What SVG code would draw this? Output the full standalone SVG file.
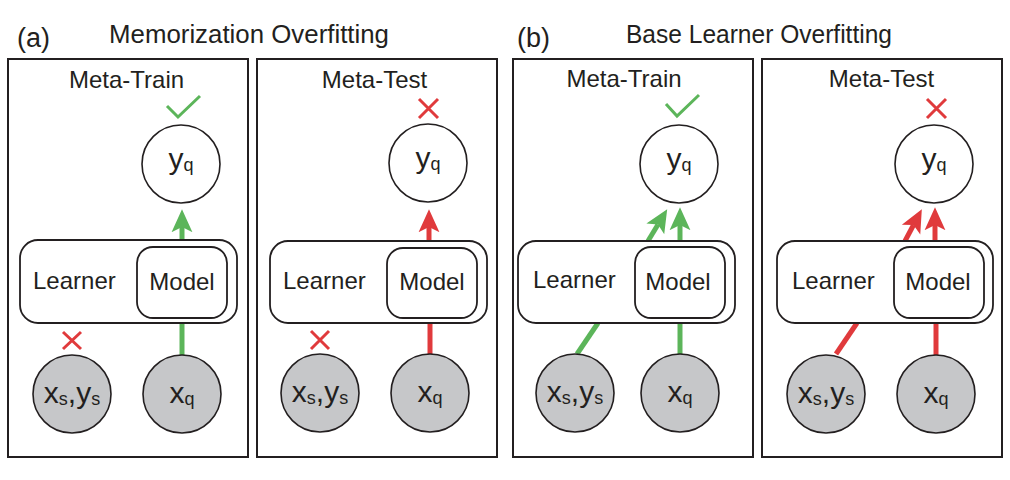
<svg xmlns="http://www.w3.org/2000/svg" width="1010" height="480" viewBox="0 0 1010 480">
<style>
text{font-family:"Liberation Sans",Arial,sans-serif;fill:#231f20}
.panel{fill:#fff;stroke:#231f20;stroke-width:2}
.learner{fill:#fff;stroke:#231f20;stroke-width:1.8}
.yq{fill:#fff;stroke:#231f20;stroke-width:1.6}
.obs{fill:#c6c7c9;stroke:#231f20;stroke-width:1.6}
.lbl{font-size:24px}
.var{font-size:30px;text-anchor:middle}
.sub{font-size:18px}
.g{stroke:#5cb55a;stroke-width:5;fill:none}
.r{stroke:#e03a3c;stroke-width:5;fill:none}
.chk{stroke:#5cb55a;stroke-width:3;fill:none}
.x{stroke:#e03a3c;stroke-width:3;fill:none}
</style>
<defs>
<marker id="ag" markerUnits="userSpaceOnUse" markerWidth="24" markerHeight="24" viewBox="0 -11 23 22" refX="5" refY="0" orient="auto"><path d="M0,-10 L22,0 L0,10 L5,0 z" fill="#5cb55a"/></marker>
<marker id="ar" markerUnits="userSpaceOnUse" markerWidth="24" markerHeight="24" viewBox="0 -11 23 22" refX="5" refY="0" orient="auto"><path d="M0,-10 L22,0 L0,10 L5,0 z" fill="#e03a3c"/></marker>
</defs>

<g id="titles">
<text x="17" y="47" style="font-size:27px">(a)</text>
<text x="109" y="43" style="font-size:25px" textLength="280" lengthAdjust="spacingAndGlyphs">Memorization Overfitting</text>
<text x="517" y="47" style="font-size:27px">(b)</text>
<text x="626" y="43" style="font-size:25px" textLength="266" lengthAdjust="spacingAndGlyphs">Base Learner Overfitting</text>
</g>

<g id="panels">
<rect id="panel-a-train" class="panel" x="8" y="59" width="240" height="398"/>
<rect id="panel-a-test" class="panel" x="257" y="59" width="240" height="398"/>
<rect id="panel-b-train" class="panel" x="513" y="59" width="240" height="398"/>
<rect id="panel-b-test" class="panel" x="762" y="59" width="240" height="398"/>
<text class="lbl" x="126.5" y="88" text-anchor="middle">Meta-Train</text>
<text class="lbl" x="374.5" y="88" text-anchor="middle">Meta-Test</text>
<text class="lbl" x="624" y="87" text-anchor="middle">Meta-Train</text>
<text class="lbl" x="881.5" y="87" text-anchor="middle">Meta-Test</text>
</g>

<g id="connectors">
<line class="g" x1="182" y1="355" x2="182" y2="323"/>
<line class="g" x1="182" y1="240" x2="182" y2="227" marker-end="url(#ag)"/>
<line class="r" x1="430" y1="355" x2="430" y2="323"/>
<line class="r" x1="429" y1="241" x2="429" y2="227" marker-end="url(#ar)"/>
<line class="g" x1="680" y1="355" x2="680" y2="323"/>
<line class="g" x1="680" y1="241" x2="680" y2="225" marker-end="url(#ag)"/>
<line class="g" x1="577" y1="354" x2="598" y2="323"/>
<line class="g" x1="648" y1="241" x2="658" y2="224.5" marker-end="url(#ag)"/>
<line class="r" x1="936" y1="355" x2="936" y2="323"/>
<line class="r" x1="935" y1="241" x2="935" y2="225" marker-end="url(#ar)"/>
<line class="r" x1="836" y1="354" x2="857" y2="323"/>
<line class="r" x1="905" y1="241" x2="913.5" y2="225" marker-end="url(#ar)"/>
</g>

<g id="marks">
<polyline class="chk" points="167,106 178,117 200,96"/>
<polyline class="chk" points="666,104 677,116 699,95"/>
<path class="x" d="M419,99 L438,118 M438,99 L419,118"/>
<path class="x" d="M927,99 L946,118 M946,99 L927,118"/>
<path class="x" d="M63,332 L81,349 M81,332 L63,349"/>
<path class="x" d="M311,331 L329,349 M329,331 L311,349"/>
</g>

<g id="a-train-yq"><circle class="yq" cx="181" cy="164" r="39"/><text class="var" x="181" y="169">y<tspan class="sub" dy="2">q</tspan></text></g>
<g id="a-train-learner"><rect class="learner" x="20" y="240" width="217" height="83" rx="18"/><text class="lbl" x="33" y="289">Learner</text></g>
<g id="a-train-model"><rect class="learner" x="137" y="247" width="90" height="71" rx="16"/><text class="lbl" x="182" y="290" text-anchor="middle">Model</text></g>
<g id="a-train-xs"><circle class="obs" cx="72" cy="394" r="39"/><text class="var" x="72" y="403">x<tspan class="sub" dy="2">s</tspan><tspan dy="-2">,y</tspan><tspan class="sub" dy="2">s</tspan></text></g>
<g id="a-train-xq"><circle class="obs" cx="182" cy="394" r="39"/><text class="var" x="182" y="403">x<tspan class="sub" dy="2">q</tspan></text></g>

<g id="a-test-yq"><circle class="yq" cx="428" cy="163" r="39"/><text class="var" x="428" y="168">y<tspan class="sub" dy="2">q</tspan></text></g>
<g id="a-test-learner"><rect class="learner" x="270" y="241" width="217" height="82" rx="18"/><text class="lbl" x="283" y="289">Learner</text></g>
<g id="a-test-model"><rect class="learner" x="387" y="248" width="90" height="70" rx="16"/><text class="lbl" x="432" y="290" text-anchor="middle">Model</text></g>
<g id="a-test-xs"><circle class="obs" cx="320" cy="393" r="39"/><text class="var" x="320" y="402">x<tspan class="sub" dy="2">s</tspan><tspan dy="-2">,y</tspan><tspan class="sub" dy="2">s</tspan></text></g>
<g id="a-test-xq"><circle class="obs" cx="430" cy="393" r="39"/><text class="var" x="430" y="402">x<tspan class="sub" dy="2">q</tspan></text></g>

<g id="b-train-yq"><circle class="yq" cx="679" cy="164" r="39"/><text class="var" x="679" y="169">y<tspan class="sub" dy="2">q</tspan></text></g>
<g id="b-train-learner"><rect class="learner" x="518" y="241" width="217" height="82" rx="18"/><text class="lbl" x="533" y="288">Learner</text></g>
<g id="b-train-model"><rect class="learner" x="635" y="247" width="90" height="71" rx="16"/><text class="lbl" x="678" y="290" text-anchor="middle">Model</text></g>
<g id="b-train-xs"><circle class="obs" cx="575" cy="393" r="39"/><text class="var" x="575" y="402">x<tspan class="sub" dy="2">s</tspan><tspan dy="-2">,y</tspan><tspan class="sub" dy="2">s</tspan></text></g>
<g id="b-train-xq"><circle class="obs" cx="680" cy="393" r="39"/><text class="var" x="680" y="402">x<tspan class="sub" dy="2">q</tspan></text></g>

<g id="b-test-yq"><circle class="yq" cx="934" cy="164" r="39"/><text class="var" x="934" y="169">y<tspan class="sub" dy="2">q</tspan></text></g>
<g id="b-test-learner"><rect class="learner" x="777" y="241" width="216" height="82" rx="18"/><text class="lbl" x="792" y="289">Learner</text></g>
<g id="b-test-model"><rect class="learner" x="894" y="247" width="90" height="71" rx="16"/><text class="lbl" x="938" y="290" text-anchor="middle">Model</text></g>
<g id="b-test-xs"><circle class="obs" cx="826" cy="394" r="39"/><text class="var" x="826" y="403">x<tspan class="sub" dy="2">s</tspan><tspan dy="-2">,y</tspan><tspan class="sub" dy="2">s</tspan></text></g>
<g id="b-test-xq"><circle class="obs" cx="936" cy="394" r="39"/><text class="var" x="936" y="403">x<tspan class="sub" dy="2">q</tspan></text></g>
</svg>
